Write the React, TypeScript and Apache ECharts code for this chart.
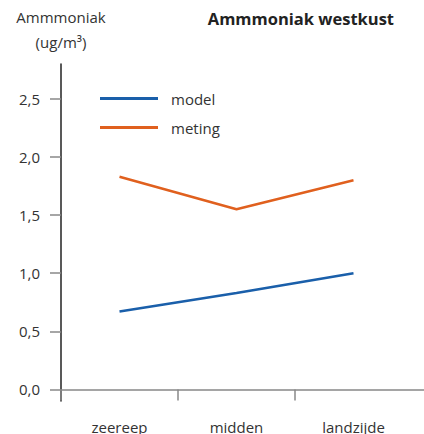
import React, { useEffect, useRef } from "react";
import * as echarts from "echarts";

const categories = ["zeereep", "midden", "landzijde"];
const categoryPositions = [0.5, 1.5, 2.5];
const modelValues = [0.67, 0.83, 1.0];
const metingValues = [1.83, 1.55, 1.8];
const yTicks = [0, 0.5, 1, 1.5, 2, 2.5];
const xTickValues = [0, 1, 2];

const FONT = "'Open Sans', 'DejaVu Sans', sans-serif";

export default function App() {
  const ref = useRef<HTMLDivElement>(null);
  useEffect(() => {
    if (!ref.current) return;
    const chart = echarts.init(ref.current, undefined, { renderer: "svg", width: 424, height: 434 });
    const toPairs = (vals: number[]) => vals.map((v, i) => [categoryPositions[i], v]);
    chart.setOption({
      animation: false,
      textStyle: { fontFamily: FONT },
      title: {
        text: "Ammmoniak westkust",
        right: 25,
        top: 5,
        textStyle: { fontFamily: FONT, fontWeight: "bold", fontSize: 16.5, color: "#222" },
      },
      legend: {
        orient: "vertical",
        left: 100,
        top: 91,
        padding: 0,
        itemWidth: 58,
        itemHeight: 3,
        itemGap: 14,
        icon: "rect",
        textStyle: { fontFamily: FONT, fontSize: 15, color: "#333", padding: [0, 0, 0, 8] },
        data: ["model", "meting"],
      },
      grid: { left: 61, top: 64, right: 0, bottom: 22, containLabel: false },
      xAxis: {
        type: "value",
        min: 0,
        max: 363 / 117,
        axisLine: { onZero: true, lineStyle: { color: "#888", width: 1.5 } },
        axisTick: { show: true, length: 11, customValues: xTickValues, lineStyle: { color: "#888", width: 1.5 } },
        axisLabel: {
          customValues: categoryPositions,
          formatter: (v: number) => {
            const i = categoryPositions.findIndex((p) => Math.abs(p - v) < 1e-6);
            return i >= 0 ? categories[i] : "";
          },
          margin: 18,
          fontSize: 15,
          color: "#333",
          fontFamily: FONT,
        },
        splitLine: { show: false },
      },
      yAxis: {
        type: "value",
        min: -0.1,
        max: 2.8,
        name: "Ammmoniak\n(ug/m³)",
        nameLocation: "end",
        nameGap: 10,
        nameTextStyle: { fontFamily: FONT, fontSize: 15, color: "#333", align: "center", lineHeight: 25 },
        axisLine: { show: true, lineStyle: { color: "#222", width: 1.5 } },
        axisTick: { show: true, length: 11, customValues: yTicks, lineStyle: { color: "#888", width: 1.5 } },
        axisLabel: {
          customValues: yTicks,
          formatter: (v: number) => v.toFixed(1).replace(".", ","),
          margin: 21,
          fontSize: 15,
          color: "#333",
          fontFamily: FONT,
        },
        splitLine: { show: false },
      },
      series: [
        {
          name: "model",
          type: "line",
          data: toPairs(modelValues),
          symbol: "none",
          lineStyle: { color: "#1a5faa", width: 2.5 },
          itemStyle: { color: "#1a5faa" },
        },
        {
          name: "meting",
          type: "line",
          data: toPairs(metingValues),
          symbol: "none",
          lineStyle: { color: "#e0601e", width: 2.5 },
          itemStyle: { color: "#e0601e" },
        },
      ],
    });
    return () => chart.dispose();
  }, []);
  return <div ref={ref} style={{ width: 424, height: 434, position: "absolute", left: 0, top: 0 }} />;
}
